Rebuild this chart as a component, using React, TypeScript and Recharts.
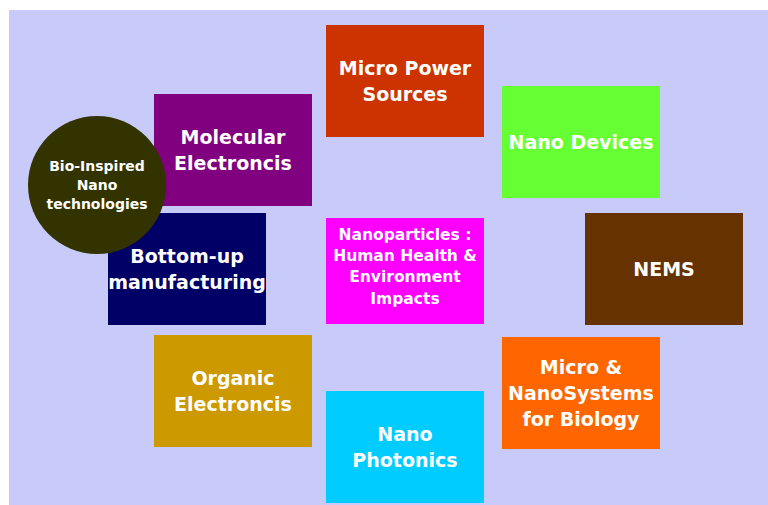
import { ScatterChart, Scatter, XAxis, YAxis } from "recharts";

// topic labels, one line per "\n"
const topics = [
  "Micro Power\nSources",
  "Molecular\nElectroncis",
  "Nano Devices",
  "Bottom-up\nmanufacturing",
  "Bio-Inspired\nNano\ntechnologies",
  "Nanoparticles :\nHuman Health &\nEnvironment\nImpacts",
  "NEMS",
  "Organic\nElectroncis",
  "Micro &\nNanoSystems\nfor Biology",
  "Nano\nPhotonics",
];

// centre of each topic on the board
const centerX = [396, 224, 572, 178, 88, 396, 655, 224, 572, 396];
const centerY = [71, 140, 132, 259, 175, 261, 259, 381, 383, 437];

const fills = [
  "#cc3300",
  "#800080",
  "#66ff33",
  "#000066",
  "#333300",
  "#ff00ff",
  "#663300",
  "#cc9900",
  "#ff6600",
  "#00ccff",
];

const rows = topics.map((label, i) => ({ x: centerX[i], y: centerY[i], label, i }));

const Node = (props: any) => {
  const { cx, cy, payload } = props;
  const i = payload.i;
  const lines: string[] = payload.label.split("\n");
  const isCircle = payload.label.startsWith("Bio-Inspired");
  const isSmall = payload.label.startsWith("Nanoparticles");
  const fontSize = isCircle ? 14 : isSmall ? 15.5 : 19;
  const lh = isCircle ? 19 : isSmall ? 21.3 : 26;
  const w = 158;
  const h = isSmall ? 106 : 112;
  const first = cy - ((lines.length - 1) * lh) / 2 + fontSize * 0.36 - (isSmall ? 5 : 0);
  return (
    <g>
      {isCircle ? (
        <circle cx={cx} cy={cy} r={69} fill={fills[i]} />
      ) : (
        <rect x={cx - w / 2} y={cy - h / 2} width={w} height={h} fill={fills[i]} />
      )}
      <text
        textAnchor="middle"
        fill="#ffffff"
        fontFamily="DejaVu Sans"
        fontWeight="bold"
        fontSize={fontSize}
      >
        {lines.map((t, k) => (
          <tspan key={k} x={cx} y={first + k * lh}>
            {t}
          </tspan>
        ))}
      </text>
    </g>
  );
};

export default function App() {
  return (
    <>
      <style>{"body { margin: 0; }"}</style>
      <div
        style={{
          marginLeft: 9,
          paddingTop: 10,
          width: 759,
          height: 495,
        }}
      >
        <div style={{ width: 759, height: 495, background: "#c8cbf9" }}>
          <ScatterChart width={759} height={495} margin={{ top: 0, right: 0, bottom: 0, left: 0 }}>
            <XAxis type="number" dataKey="x" domain={[0, 759]} hide />
            <YAxis type="number" dataKey="y" domain={[0, 495]} reversed hide />
            <Scatter data={rows} shape={(p: any) => <Node {...p} />} isAnimationActive={false} />
          </ScatterChart>
        </div>
      </div>
    </>
  );
}
